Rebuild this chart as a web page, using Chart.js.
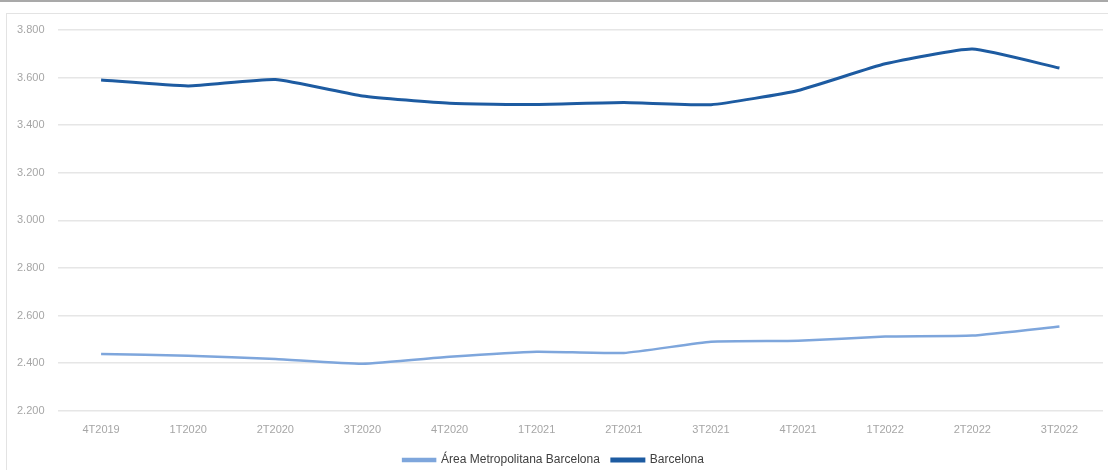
<!DOCTYPE html>
<html>
<head>
<meta charset="utf-8">
<script src="https://cdn.jsdelivr.net/npm/chart.js@4/dist/chart.umd.min.js"></script>
<style>
  html, body { margin: 0; padding: 0; background: #fff; }
  #wrap { position: relative; width: 1108px; height: 470px; }
</style>
</head>
<body>
<div id="wrap"><canvas id="myLineChart"></canvas></div>
<script>
const quarters = ["4T2019", "1T2020", "2T2020", "3T2020", "4T2020", "1T2021", "2T2021", "3T2021", "4T2021", "1T2022", "2T2022", "3T2022"];
const areaMetropolitana = [2439, 2431, 2418, 2398, 2427, 2448, 2443, 2490, 2494, 2512, 2516, 2554];
const barcelona = [3590, 3565, 3592, 3523, 3492, 3487, 3495, 3486, 3546, 3658, 3720, 3640];

// light frame around the chart plus the grey rule on top
const framePlugin = {
    id: 'frame',
    beforeDraw: function(chart) {
        const ctx = chart.ctx;
        ctx.save();
        ctx.fillStyle = '#ffffff';
        ctx.fillRect(0, 0, chart.width, chart.height);
        ctx.fillStyle = '#a9a9a9';
        ctx.fillRect(0, 0, chart.width, 2);
        ctx.strokeStyle = '#e3e3e3';
        ctx.lineWidth = 1;
        ctx.strokeRect(6.5, 13.5, chart.width, chart.height);
        ctx.restore();
    }
};

document.addEventListener('DOMContentLoaded', function() {
    const ctx = document.getElementById('myLineChart').getContext('2d');
    const myLineChart = new Chart(ctx, {
        type: 'line',
        data: {
            labels: quarters,
            datasets: [{
                label: "Área Metropolitana Barcelona",
                data: areaMetropolitana,
                borderColor: '#7ea6dc',
                backgroundColor: '#7ea6dc',
                borderWidth: 2.5,
                pointRadius: 0,
                tension: 0.15,
            }, {
                label: "Barcelona",
                data: barcelona,
                borderColor: '#1d5ba1',
                backgroundColor: '#1d5ba1',
                borderWidth: 3,
                pointRadius: 0,
                tension: 0.15,
            }],
        },
        options: {
            responsive: true,
            maintainAspectRatio: false,
            animation: false,
            layout: {
                padding: { left: 4, right: 5, top: 30, bottom: -6 }
            },
            scales: {
                x: {
                    offset: true,
                    grid: { display: false },
                    border: { display: false },
                    ticks: {
                        color: '#a6a6a6',
                        font: { family: 'Liberation Sans', size: 11 },
                        padding: 5,
                        maxRotation: 0,
                    },
                },
                y: {
                    min: 2200,
                    max: 3800,
                    grid: { color: '#e6e6e6', lineWidth: 1.5, drawTicks: false },
                    border: { display: false },
                    ticks: {
                        stepSize: 200,
                        color: '#a6a6a6',
                        font: { family: 'Liberation Sans', size: 11 },
                        padding: 13,
                        callback: function(value) {
                            return value.toLocaleString('de-DE', { minimumFractionDigits: 3 }).replace(',000', '');
                        }
                    },
                },
            },
            plugins: {
                legend: {
                    position: 'bottom',
                    labels: {
                        color: '#404040',
                        font: { family: 'Liberation Sans', size: 12 },
                        boxWidth: 32,
                        boxHeight: 2,
                        padding: 12,
                    }
                },
                tooltip: { enabled: false }
            }
        },
        plugins: [framePlugin]
    });
});
</script>
</body>
</html>
